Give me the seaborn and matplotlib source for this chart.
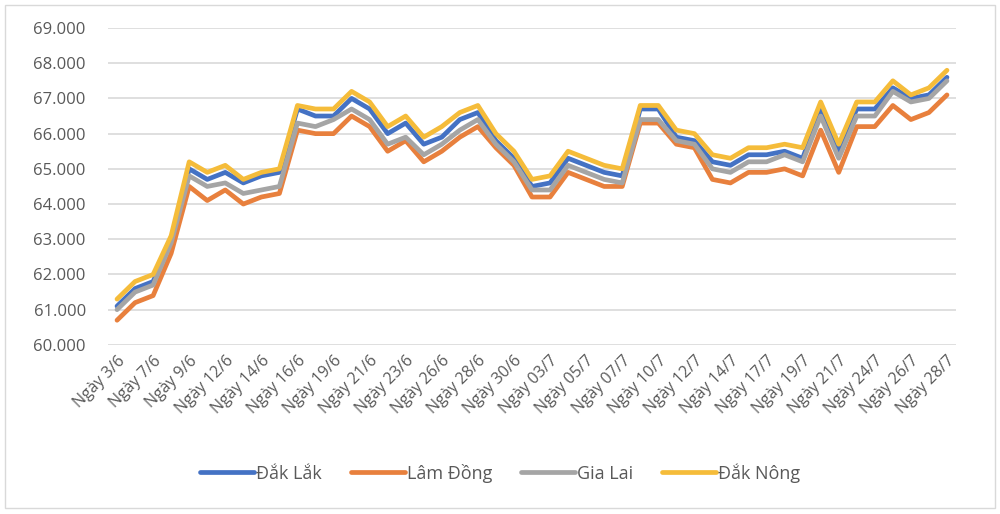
import numpy as np
import pandas as pd
import matplotlib
matplotlib.use("Agg")
import matplotlib.pyplot as plt
import matplotlib.ticker as mticker
from matplotlib.patches import Rectangle
from matplotlib.lines import Line2D
import seaborn as sns

dates = ["Ngày 3/6", "", "Ngày 7/6", "", "Ngày 9/6", "", "Ngày 12/6", "", "Ngày 14/6", "",
         "Ngày 16/6", "", "Ngày 19/6", "", "Ngày 21/6", "", "Ngày 23/6", "", "Ngày 26/6", "",
         "Ngày 28/6", "", "Ngày 30/6", "", "Ngày 03/7", "", "Ngày 05/7", "", "Ngày 07/7", "",
         "Ngày 10/7", "", "Ngày 12/7", "", "Ngày 14/7", "", "Ngày 17/7", "", "Ngày 19/7", "",
         "Ngày 21/7", "", "Ngày 24/7", "", "Ngày 26/7", "", "Ngày 28/7"]

dak_lak = [61100, 61600, 61800, 63000, 65000, 64700, 64900, 64600, 64800, 64900,
           66700, 66500, 66500, 67000, 66700, 66000, 66300, 65700, 65900, 66400,
           66600, 65800, 65300, 64500, 64600, 65300, 65100, 64900, 64800, 66700,
           66700, 65900, 65800, 65200, 65100, 65400, 65400, 65500, 65300, 66700,
           65500, 66700, 66700, 67300, 67000, 67100, 67600]
lam_dong = [60700, 61200, 61400, 62600, 64500, 64100, 64400, 64000, 64200, 64300,
            66100, 66000, 66000, 66500, 66200, 65500, 65800, 65200, 65500, 65900,
            66200, 65600, 65100, 64200, 64200, 64900, 64700, 64500, 64500, 66300,
            66300, 65700, 65600, 64700, 64600, 64900, 64900, 65000, 64800, 66100,
            64900, 66200, 66200, 66800, 66400, 66600, 67100]
gia_lai = [61000, 61500, 61700, 62900, 64800, 64500, 64600, 64300, 64400, 64500,
           66300, 66200, 66400, 66700, 66400, 65700, 65900, 65400, 65700, 66100,
           66400, 65700, 65200, 64400, 64400, 65100, 64900, 64700, 64600, 66400,
           66400, 65800, 65700, 65000, 64900, 65200, 65200, 65400, 65200, 66500,
           65300, 66500, 66500, 67200, 66900, 67000, 67500]
dak_nong = [61300, 61800, 62000, 63100, 65200, 64900, 65100, 64700, 64900, 65000,
            66800, 66700, 66700, 67200, 66900, 66200, 66500, 65900, 66200, 66600,
            66800, 66000, 65500, 64700, 64800, 65500, 65300, 65100, 65000, 66800,
            66800, 66100, 66000, 65400, 65300, 65600, 65600, 65700, 65600, 66900,
            65700, 66900, 66900, 67500, 67100, 67300, 67800]

series_names = ["Đắk Lắk", "Lâm Đồng", "Gia Lai", "Đắk Nông"]
colors = ["#4472C4", "#E8803D", "#A5A5A5", "#F5BC3A"]

idx = np.arange(len(dates))
df = pd.DataFrame({
    "x": np.tile(idx, 4),
    "value": dak_lak + lam_dong + gia_lai + dak_nong,
    "series": np.repeat(series_names, len(dates)),
})

sns.set_theme(style="white")
plt.rcParams["font.family"] = ["Open Sans", "DejaVu Sans"]

fig = plt.figure(figsize=(10, 5.14), dpi=100)
ax = fig.add_axes([0.108, 0.329, 0.848, 0.6165])

sns.lineplot(data=df, x="x", y="value", hue="series", hue_order=series_names,
             palette=colors, linewidth=3.4, ax=ax, legend=False, sort=False)

ax.set_xlim(-0.5, len(dates) - 0.5)
ax.set_ylim(60000, 69000)
ax.yaxis.set_major_locator(mticker.MultipleLocator(1000))
ax.yaxis.set_major_formatter(mticker.FuncFormatter(lambda v, p: f"{int(v):,}".replace(",", ".")))
ax.grid(axis="y", color="#D9D9D9", linewidth=1.2)
ax.set_axisbelow(True)
for s in ax.spines.values():
    s.set_visible(False)

even = idx[::2]
ax.set_xticks(even)
ax.set_xticklabels([dates[i] for i in even], rotation=45, ha="right",
                   rotation_mode="anchor", fontsize=11.5, color="#595959")
ax.tick_params(axis="y", labelsize=12, labelcolor="#595959", length=0, pad=16)
ax.tick_params(axis="x", length=0, pad=6)
ax.set_xlabel("")
ax.set_ylabel("")

handles = [Line2D([0], [0], color=c, linewidth=3.4) for c in colors]
fig.legend(handles, series_names, loc="center", bbox_to_anchor=(0.5, 0.08), ncol=4,
           frameon=False, fontsize=13, handlelength=3.0, handletextpad=0.1,
           columnspacing=1.6, labelcolor="#595959")

fig.patches.append(Rectangle((0.005, 0.011), 0.99, 0.98, transform=fig.transFigure,
                             fill=False, edgecolor="#D9D9D9", linewidth=1.0))

fig.savefig("out.png", dpi=100, facecolor="white")
